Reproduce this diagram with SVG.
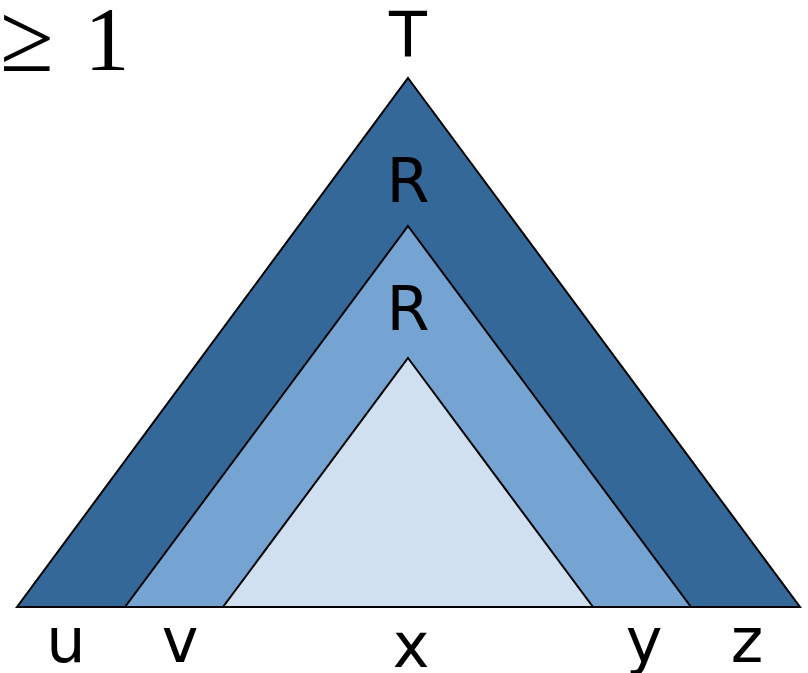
<svg xmlns="http://www.w3.org/2000/svg" width="808" height="673" viewBox="0 0 808 673">
<style>
.t{font-family:"DejaVu Sans",sans-serif;font-size:62px;fill:#000;text-anchor:middle}
.m{font-family:"Liberation Serif",serif;fill:#000}
.s{stroke:#000;stroke-width:2;stroke-linejoin:miter}
</style>
<rect width="808" height="673" fill="#fff"/>
<g id="outer"><polygon class="s" points="408,78 800,607 17,607" fill="#346899"/></g>
<g id="middle"><polygon class="s" points="408,226 691,607 125,607" fill="#75a4d3"/></g>
<g id="inner"><polygon class="s" points="408,358 593,607 223,607" fill="#d0e0f0"/></g>
<g id="labels">
<text class="m" x="0" y="71" style="font-size:98px">≥</text>
<text class="m" x="107" y="70" style="font-size:90px;text-anchor:middle">1</text>
<text class="t" x="408" y="56">T</text>
<text class="t" x="408" y="202">R</text>
<text class="t" x="408" y="330">R</text>
<text class="t" x="66" y="662">u</text>
<text class="t" x="180" y="662">v</text>
<text class="t" x="411" y="667">x</text>
<text class="t" x="644" y="662">y</text>
<text class="t" x="747" y="662">z</text>
</g>
</svg>
